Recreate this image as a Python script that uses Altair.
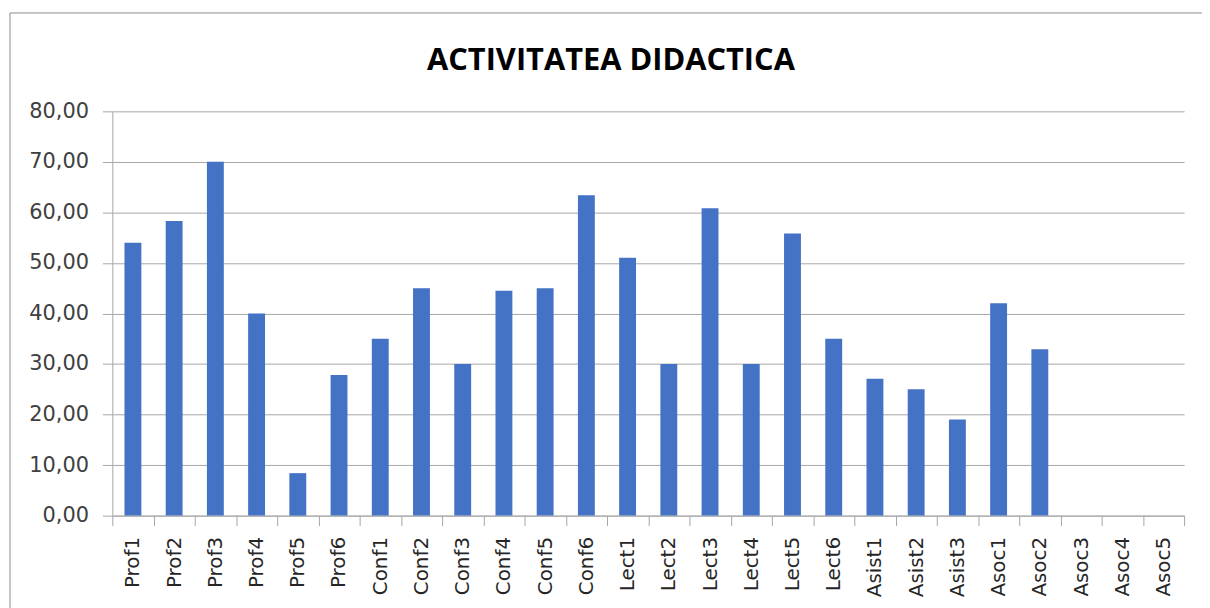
import altair as alt
import pandas as pd

categories = ["Prof1", "Prof2", "Prof3", "Prof4", "Prof5", "Prof6",
              "Conf1", "Conf2", "Conf3", "Conf4", "Conf5", "Conf6",
              "Lect1", "Lect2", "Lect3", "Lect4", "Lect5", "Lect6",
              "Asist1", "Asist2", "Asist3",
              "Asoc1", "Asoc2", "Asoc3", "Asoc4", "Asoc5"]
values = [54.0, 58.3, 70.0, 40.0, 8.4, 27.8,
          35.0, 45.0, 30.0, 44.5, 45.0, 63.4,
          51.0, 30.0, 60.8, 30.0, 55.8, 35.0,
          27.1, 25.0, 19.0,
          42.0, 32.9, 0.0, 0.0, 0.0]
y_ticks = [0, 10, 20, 30, 40, 50, 60, 70, 80]
title_text = "ACTIVITATEA DIDACTICA"

df = pd.DataFrame({"cat": categories, "val": values})
title_df = pd.DataFrame({"t": [title_text]})

W, H = 1079, 407
GRID = "#a6a6a6"

bars = alt.Chart(df).mark_bar(size=17, color="#4472C4").encode(
    x=alt.X("cat:N", sort=categories, title=None,
            scale=alt.Scale(paddingInner=0, paddingOuter=0),
            axis=alt.Axis(labelAngle=-90, labelAlign="right", labelBaseline="middle",
                          labelFont="DejaVu Sans", labelFontSize=20, labelColor="#262626",
                          labelPadding=11, tickSize=10, tickColor=GRID, tickBand="extent",
                          domainColor=GRID, grid=False)),
    y=alt.Y("val:Q", title=None, scale=alt.Scale(domain=[0, 80], nice=False),
            axis=alt.Axis(values=y_ticks,
                          labelExpr="replace(format(datum.value, '.2f'), '.', ',')",
                          labelFont="DejaVu Sans", labelFontSize=21, labelColor="#404040",
                          labelPadding=14, tickSize=10, tickColor=GRID,
                          domainColor=GRID, gridColor=GRID, grid=True)),
)

border_left = alt.Chart(title_df).mark_rule(color="#8c8c8c", clip=False).encode(
    x=alt.value(-103), y=alt.value(-99), y2=alt.value(H + 100))
border_top = alt.Chart(title_df).mark_rule(color="#8c8c8c", clip=False).encode(
    x=alt.value(-103), x2=alt.value(W + 20), y=alt.value(-99))

title = alt.Chart(title_df).mark_text(
    font="Open Sans", fontSize=31, fontWeight="bold", color="#000000",
    align="center", baseline="alphabetic", clip=False
).encode(x=alt.value(502), y=alt.value(-42), text="t:N")

chart = alt.layer(border_left, border_top, title, bars).properties(
    width=W, height=H,
    padding={"left": 105, "top": 102, "right": 18, "bottom": 91},
    autosize=alt.AutoSizeParams(type="none"),
).configure_view(stroke=None)

chart.save("out.html", embed_options={"renderer": "svg", "actions": False})
